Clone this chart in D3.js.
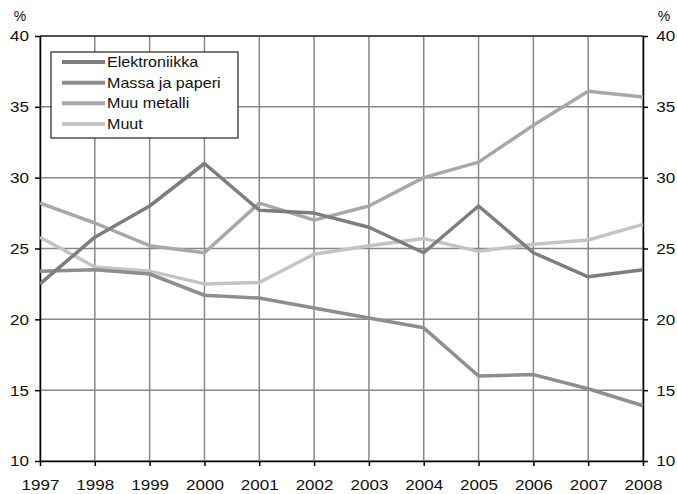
<!DOCTYPE html>
<html><head><meta charset="utf-8">
<script src="https://cdn.jsdelivr.net/npm/d3@7"></script>
<style>body{margin:0;background:#fff}svg{display:block;font-family:"Liberation Sans",Arial,sans-serif}</style>
</head><body><svg id="c" width="677" height="494"></svg>
<script>
const years = [1997,1998,1999,2000,2001,2002,2003,2004,2005,2006,2007,2008];
const yTicks = [10,15,20,25,30,35,40];
const seriesNames = ["Elektroniikka","Massa ja paperi","Muu metalli","Muut"];
const elektroniikka = [22.5,25.8,28.0,31.0,27.7,27.5,26.5,24.7,28.0,24.7,23.0,23.5];
const massaJaPaperi = [23.4,23.5,23.2,21.7,21.5,20.8,20.1,19.4,16.0,16.1,15.1,13.9];
const muuMetalli = [28.2,26.8,25.2,24.7,28.2,27.0,28.0,30.0,31.1,33.7,36.1,35.7];
const muut = [25.8,23.7,23.4,22.5,22.6,24.6,25.2,25.7,24.8,25.3,25.6,26.7];
const colors = ["#7d7d7d","#8e8e8e","#a8a8a8","#c4c4c4"];
const allSeries = [elektroniikka, massaJaPaperi, muuMetalli, muut];

const svg = d3.select("#c");
const L = 40, R = 643, T = 36, B = 461;
const x = d3.scaleLinear().domain([1997,2008]).range([L,R]);
const y = d3.scaleLinear().domain([10,40]).range([B,T]);

// grid
svg.append("g").selectAll("line").data(yTicks).join("line")
  .attr("x1",L).attr("x2",R).attr("y1",d=>y(d)).attr("y2",d=>y(d))
  .attr("stroke","#888").attr("stroke-width",1.5);
svg.append("g").selectAll("line").data(years).join("line")
  .attr("x1",d=>x(d)).attr("x2",d=>x(d)).attr("y1",T).attr("y2",B)
  .attr("stroke","#888").attr("stroke-width",1.5);
svg.append("line").attr("x1",L).attr("x2",R).attr("y1",T).attr("y2",T).attr("stroke","#333").attr("stroke-width",1.5);

const fmt = d3.format("d");
const SX = 1.1;
const ax = (g)=>{g.select(".domain").attr("stroke","#000").attr("stroke-width",1.5);
  g.selectAll(".tick line").attr("stroke","#000").attr("stroke-width",1.5);
  g.selectAll(".tick text").attr("fill","#111").attr("transform",`scale(${SX},1)`)
   .style("font-size","15.5px").style("font-family","'Liberation Sans',Arial,sans-serif");};
svg.append("g").attr("transform",`translate(${L},0)`)
  .call(d3.axisLeft(y).tickValues(yTicks).tickSize(5).tickSizeOuter(0).tickPadding(5).tickFormat(fmt)).call(ax);
svg.append("g").attr("transform",`translate(${R},0)`)
  .call(d3.axisRight(y).tickValues(yTicks).tickSize(5).tickSizeOuter(0).tickPadding(7).tickFormat(fmt)).call(ax);
svg.append("g").attr("transform",`translate(0,${B})`)
  .call(d3.axisBottom(x).tickValues(years).tickSize(5).tickSizeOuter(0).tickPadding(13).tickFormat(fmt)).call(ax);

svg.append("text").attr("x",20).attr("y",21).attr("text-anchor","middle").style("font-size","14px").attr("fill","#111").text("%");
svg.append("text").attr("x",664).attr("y",21).attr("text-anchor","middle").style("font-size","14px").attr("fill","#111").text("%");

const line = d3.line().x((d,i)=>x(years[i])).y(d=>y(d));
[3,2,1,0].forEach(k=>{
  svg.append("path").datum(allSeries[k]).attr("d",line)
    .attr("fill","none").attr("stroke",colors[k]).attr("stroke-width",3.5).attr("stroke-linejoin","round");
});

const lg = svg.append("g");
lg.append("rect").attr("x",51).attr("y",52).attr("width",187).attr("height",86)
  .attr("fill","#fff").attr("stroke","#222").attr("stroke-width",1.2);
const rowY = d3.scalePoint().domain(seriesNames).range([62,124]);
seriesNames.forEach((n,i)=>{
  lg.append("line").attr("x1",62).attr("x2",105).attr("y1",rowY(n)).attr("y2",rowY(n))
    .attr("stroke",colors[i]).attr("stroke-width",4);
  lg.append("text").attr("x",107/1.15).attr("y",rowY(n)+5).attr("transform","scale(1.15,1)")
    .style("font-size","14px").attr("fill","#111").text(n);
});
</script></body></html>
